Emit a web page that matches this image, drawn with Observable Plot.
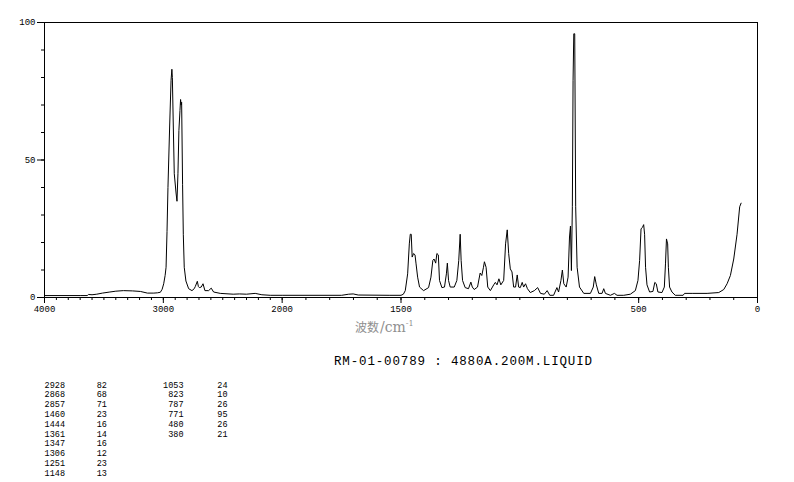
<!DOCTYPE html>
<html><head><meta charset="utf-8">
<script src="https://cdn.jsdelivr.net/npm/d3@7"></script>
<script src="https://cdn.jsdelivr.net/npm/@observablehq/plot@0.6"></script>
<style>
body{margin:0;background:#fff;}
#wrap{position:relative;width:794px;height:482px;overflow:hidden;background:#fff;}
#wrap > svg{position:absolute;left:0;top:0;}
</style></head><body><div id="wrap"></div>
<script>
// Raman spectrum: wavenumber (cm-1) and relative intensity
const spectrumWn = [4000,3700,3640,3630,3600,3560,3513,3450,3400,3336,3260,3193,3134,3080,3050,3025,3010,2997,2985,2977,2969,2961,2947,2935,2928,2924,2916,2908,2893,2885,2877,2869,2860,2855,2850,2846,2838,2832,2824,2810,2787,2759,2740,2731,2714,2705,2697,2681,2666,2650,2619,2597,2577,2521,2412,2360,2300,2227,2171,2100,2000,1750,1720,1701,1680,1550,1500,1490,1482,1472,1465,1461,1457,1453,1447,1441,1437,1430,1422,1405,1384,1374,1366,1361,1354,1349,1343,1338,1328,1317,1309,1305,1300,1293,1276,1265,1257,1251,1247,1241,1230,1216,1206,1200,1192,1178,1167,1160,1153,1149,1142,1135,1124,1110,1103,1096,1088,1080,1068,1060,1053,1047,1040,1033,1026,1018,1011,1005,998,990,984,976,968,956,939,925,913,897,885,874,858,844,837,827,821,815,805,797,791,787,783,779,776,773,769,765,759,749,731,703,691,685,678,668,654,647,640,619,602,591,563,535,514,503,496,490,484,479,475,471,465,454,440,432,426,419,402,392,387,383,378,375,370,360,346,313,307,275,212,163,142,128,114,100,86,75,69];
const spectrumInt = [0.7,0.7,0.7,1.1,1.0,1.2,1.6,2.0,2.3,2.5,2.4,2.2,1.6,1.6,1.7,1.9,3.0,5,8,11,24,40,62,79,83,80,62,45,38,35,45,60.7,68,72,70,71,41,23,11,6,3.2,2.5,3.2,4,5.9,4,3.6,3.8,5,2.5,2.5,3.4,2.0,1.5,1.2,1.3,1.2,1.5,1.0,0.8,0.8,0.8,1.2,1.3,0.9,0.8,0.8,1.2,2.5,8.6,19.5,23,23,14.7,16,15.5,12.5,7.4,3.8,2.5,3.6,7.4,13.5,14,12.5,16,15.5,6.2,3.6,3.8,8.6,12.5,6.2,3.8,3.8,6.2,13.5,23,13.5,6.2,3.6,3.2,5.6,3.8,2.9,3.8,8.9,8,11,13,11,3.8,2.5,4.6,5.5,4.6,6.8,4.6,6.2,19.5,24.6,16,10.4,9.3,3.8,3.8,8.2,3.8,3.6,5.5,3.8,5,3.2,1.8,2.5,3.6,1.5,1.2,2.5,0.8,0.8,3.6,2,6.2,10,5,3.8,7.4,22,26,9.8,33,79,95.9,95.9,33,11,3.8,1.5,1.5,3.8,7.6,4.6,1.5,1.5,3.2,1.5,0.8,1.5,0.8,0.8,1.2,2.5,6.2,13.5,25,25.5,26.5,23,11,4.6,2,2.2,5.5,5,2,1.8,3.8,12.5,21.3,19.5,11,3.8,2,0.8,0.8,1.5,1.5,1.5,1.8,2.9,5,8,14,23,33,34.3];

const majorTicksX = [4000,3000,2000,1500,500,0];
const majorTicksY = [0,50,100];
const peakWnA  = ["2928","2868","2857","1460","1444","1361","1347","1306","1251","1148"];
const peakIntA = ["82","68","71","23","16","14","16","12","23","13"];
const peakWnB  = ["1053","823","787","771","480","380"];
const peakIntB = ["24","10","26","95","26","21"];
const axisTitleMain = "波数";
const axisTitleUnit = "/cm";
const axisTitleSup = "-1";
const sampleInfo = "RM-01-00789 : 4880A.200M.LIQUID";

// the wavenumber axis is compressed 2:1 above 2000 cm-1
const fwd = w => w <= 2000 ? w : 2000 + (w - 2000) / 2;
const inv = u => u <= 2000 ? Math.round(u) : Math.round(2000 + (u - 2000) * 2);

const spectrum = spectrumWn.map((w, i) => ({w, v: spectrumInt[i]}));
const minorTicksX = d3.range(0, 4001, 100).map(fwd);
const minorTicksY = d3.range(0, 101, 10);

const chart = Plot.plot({
  width: 794, height: 322,
  marginLeft: 44, marginRight: 37, marginTop: 22, marginBottom: 25,
  style: {fontFamily: "'Liberation Mono', 'DejaVu Sans Mono', monospace", fontSize: "9px", background: "transparent", color: "black", overflow: "visible"},
  x: {domain: [3000, 0], axis: null},
  y: {domain: [0, 100], axis: null},
  marks: [
    Plot.axisX({ticks: minorTicksX, tickSize: 3, tickFormat: () => "", label: null, stroke: "black"}),
    Plot.axisX({ticks: majorTicksX.map(fwd), tickSize: 6, tickPadding: 2, tickFormat: u => String(inv(u)), label: null, stroke: "black", fill: "black"}),
    Plot.axisY({ticks: minorTicksY, tickSize: 3, tickFormat: () => "", label: null, stroke: "black"}),
    Plot.axisY({ticks: majorTicksY, tickSize: 7, tickPadding: 2, label: null, stroke: "black", fill: "black"}),
    Plot.frame({stroke: "black"}),
    Plot.line(spectrum, {x: d => fwd(d.w), y: "v", stroke: "black", strokeWidth: 1})
  ]
});
const wrap = document.getElementById("wrap");
wrap.appendChild(chart);

// texts below the chart
const svg = d3.select(wrap).append("svg").attr("width", 794).attr("height", 482)
  .style("pointer-events", "none");

const t = svg.append("text").attr("x", 355).attr("y", 331.5).attr("fill", "#8f8f8f");
t.append("tspan").attr("font-family", "'Noto Sans CJK SC', sans-serif").attr("font-size", 12).text(axisTitleMain);
t.append("tspan").attr("font-family", "'DejaVu Serif', serif").attr("font-size", 14).attr("dx", 1).text(axisTitleUnit);
t.append("tspan").attr("font-family", "'DejaVu Serif', serif").attr("font-size", 8).attr("dy", -5.5).text(axisTitleSup);

svg.append("text").attr("x", 334).attr("y", 365)
  .attr("font-family", "'Liberation Mono', monospace").attr("font-size", 12.5)
  .attr("letter-spacing", 0.85).attr("fill", "black").text(sampleInfo);

const mono = g => g.attr("font-family", "'Liberation Mono', monospace").attr("font-size", 8.5).attr("fill", "black");
const rowY = i => 387.7 + 9.78 * i;
peakWnA.forEach((s, i) => {
  svg.append("text").call(mono).attr("x", 65).attr("y", rowY(i)).attr("text-anchor", "end").text(s);
  svg.append("text").call(mono).attr("x", 96.7).attr("y", rowY(i)).text(peakIntA[i]);
});
peakWnB.forEach((s, i) => {
  svg.append("text").call(mono).attr("x", 183.5).attr("y", rowY(i)).attr("text-anchor", "end").text(s);
  svg.append("text").call(mono).attr("x", 217.3).attr("y", rowY(i)).text(peakIntB[i]);
});
</script></body></html>
